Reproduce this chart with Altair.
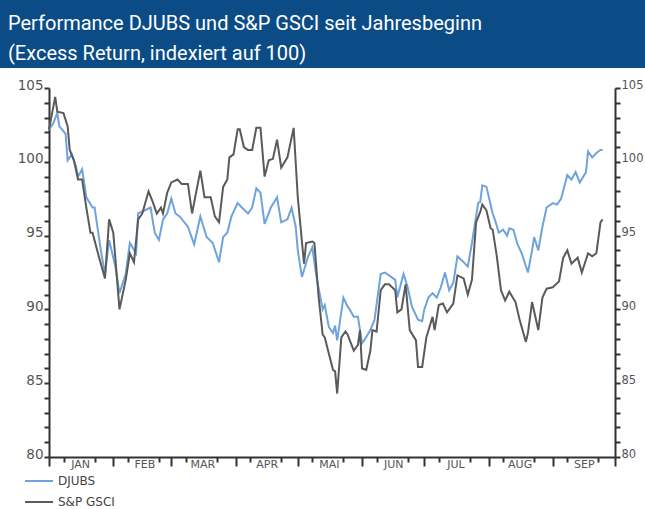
import altair as alt
import pandas as pd

TITLE_1 = "Performance DJUBS und S&P GSCI seit Jahresbeginn"
TITLE_2 = "(Excess Return, indexiert auf 100)"
SERIES = ["DJUBS", "S&P GSCI"]
COLORS = ["#6fa3dc", "#5a5a5a"]
MONTH_LABELS = ["JAN", "FEB", "MAR", "APR", "MAI", "JUN", "JUL", "AUG", "SEP"]
YEAR_START = "2010-01-01"
Y_TICKS = list(range(80, 106))

# days since 1 January
djubs_day = [0, 2, 4, 5, 8, 9, 11, 13, 14, 16,
             18, 21, 22, 25, 27, 29, 32, 34, 37, 39,
             42, 43, 46, 49, 51, 53, 55, 57, 59, 61,
             63, 67, 70, 73, 76, 79, 82, 84, 86, 88,
             91, 93, 96, 98, 100, 102, 104, 107, 110, 112,
             115, 117, 119, 120, 122, 125, 127, 129, 132, 133,
             135, 137, 138, 139, 142, 144, 145, 147, 149, 151,
             152, 155, 157, 160, 162, 165, 167, 168, 171, 173,
             175, 178, 180, 181, 183, 185, 187, 189, 191, 193,
             195, 197, 200, 202, 204, 207, 208, 209, 211, 214,
             215, 217, 219, 221, 222, 224, 226, 228, 231, 233,
             234, 236, 238, 240, 243, 245, 247, 250, 252, 254,
             256, 259, 260, 262, 264, 266, 267]
djubs_val = [102.2, 102.6, 103.3, 102.4, 101.9, 100.1, 100.5, 99.7, 99.0, 99.5,
             97.6, 96.9, 96.9, 94.0, 92.4, 94.7, 92.9, 91.1, 92.4, 94.5,
             93.8, 96.5, 96.7, 96.9, 95.2, 94.7, 96.1, 96.5, 97.5, 96.5,
             96.3, 95.6, 94.4, 96.3, 94.9, 94.5, 93.2, 94.9, 95.2, 96.3,
             97.2, 96.9, 96.5, 96.9, 98.2, 97.9, 95.8, 96.9, 97.6, 95.9,
             96.1, 96.9, 95.6, 94.0, 92.2, 93.6, 94.2, 92.2, 90.0, 90.3,
             88.8, 88.4, 88.9, 87.9, 90.8, 90.2, 90.0, 89.5, 89.5, 87.7,
             87.9, 88.6, 89.3, 92.4, 92.5, 92.2, 92.0, 90.8, 92.4, 91.5,
             90.2, 89.3, 89.2, 90.0, 90.8, 91.1, 90.8, 91.5, 92.5, 91.3,
             91.8, 93.6, 93.2, 92.9, 94.5, 97.2, 97.3, 98.4, 98.3, 96.5,
             96.1, 95.2, 95.4, 95.0, 95.5, 95.4, 94.4, 93.8, 92.5, 94.0,
             94.9, 94.0, 95.6, 96.9, 97.2, 97.1, 97.5, 99.1, 98.8, 99.3,
             98.6, 99.3, 100.7, 100.3, 100.6, 100.8, 100.8]

gsci_day = [0, 3, 4, 7, 9, 10, 12, 14, 16, 18,
            20, 21, 24, 27, 29, 31, 34, 37, 39, 41,
            43, 45, 48, 50, 52, 54, 55, 57, 59, 62,
            64, 67, 69, 73, 75, 78, 80, 82, 84, 86,
            87, 89, 91, 92, 94, 96, 98, 100, 102, 104,
            106, 108, 110, 112, 115, 118, 120, 123, 124, 127,
            128, 130, 132, 133, 135, 137, 138, 139, 141, 143,
            144, 147, 149, 150, 151, 153, 155, 156, 158, 160,
            162, 164, 167, 168, 170, 172, 174, 177, 178, 180,
            182, 185, 186, 188, 190, 192, 195, 197, 200, 202,
            204, 206, 208, 209, 211, 213, 214, 216, 218, 220,
            222, 225, 227, 230, 231, 233, 236, 238, 240, 243,
            246, 248, 250, 252, 255, 257, 260, 262, 264, 266,
            267]
gsci_val = [102.2, 104.4, 103.4, 103.3, 102.4, 100.8, 100.1, 98.8, 98.8, 96.9,
            95.2, 95.2, 93.6, 92.1, 96.1, 95.2, 90.0, 92.0, 93.8, 93.2,
            96.1, 96.5, 98.0, 97.3, 96.5, 96.9, 96.5, 97.9, 98.6, 98.8,
            98.5, 98.5, 96.5, 99.4, 97.6, 97.6, 96.3, 95.9, 98.3, 98.8,
            100.3, 100.5, 102.2, 102.2, 101.0, 100.8, 100.8, 102.3, 102.3, 99.0,
            100.1, 100.2, 101.5, 99.6, 100.3, 102.3, 97.6, 93.1, 94.5, 94.6,
            94.5, 90.9, 88.3, 88.1, 87.0, 85.9, 85.8, 84.3, 88.1, 88.5,
            88.3, 87.2, 87.6, 88.6, 86.0, 85.9, 87.2, 88.6, 88.5, 91.3,
            91.7, 91.7, 91.3, 89.8, 90.0, 91.7, 88.6, 87.9, 86.1, 86.1,
            88.1, 89.5, 88.6, 90.3, 90.4, 89.8, 90.4, 92.3, 92.1, 91.0,
            92.0, 95.9, 96.6, 97.1, 96.7, 95.5, 95.4, 93.6, 91.3, 90.6,
            91.2, 90.5, 89.3, 87.8, 88.4, 90.5, 88.6, 90.8, 91.4, 91.5,
            91.9, 93.5, 94.0, 93.1, 93.5, 92.5, 93.8, 93.6, 93.8, 95.9,
            96.1]

start = pd.Timestamp(YEAR_START)
df = pd.concat([
    pd.DataFrame({"date": start + pd.to_timedelta(djubs_day, unit="D"),
                  "value": djubs_val, "series": SERIES[0]}),
    pd.DataFrame({"date": start + pd.to_timedelta(gsci_day, unit="D"),
                  "value": gsci_val, "series": SERIES[1]}),
])
df["date"] = df["date"].dt.strftime("%Y-%m-%dT%H:%M:%S")

W, H = 566, 369
FONT = "DejaVu Sans"
AX_COL = "#333333"

x_scale = alt.Scale(domain=[alt.DateTime(year=2010, month=1, date=1),
                            alt.DateTime(year=2010, month=10, date=1)])
y_scale = alt.Scale(domain=[80, 105], nice=False, zero=False)

# tick positions: month starts (long), around labels (short), label at mid-month
x_values = []
for m in range(1, 10):
    for d in (1, 8, 16, 23):
        x_values.append(alt.DateTime(year=2010, month=m, date=d))
x_values.append(alt.DateTime(year=2010, month=10, date=1))

label_arr = "[" + ",".join(f"'{m}'" for m in MONTH_LABELS) + "]"
x_axis = alt.Axis(
    values=x_values,
    labelExpr=f"date(datum.value) == 16 ? {label_arr}[month(datum.value)] : ''",
    grid=False, title=None,
    tickColor=AX_COL, tickWidth=2,
    tickSize={"condition": {"test": "date(datum.value) == 1", "value": 9}, "value": 5},
    tickOpacity={"condition": {"test": "date(datum.value) == 16", "value": 0}, "value": 1},
    domainColor=AX_COL, domainWidth=2,
    labelFont=FONT, labelFontSize=11, labelColor="#555555",
    labelPadding=-4, labelAlign="center", labelFlush=False, labelOverlap=False,
)

def y_axis(orient, size):
    return alt.Axis(
        orient=orient, values=Y_TICKS,
        labelExpr="datum.value % 5 == 0 ? datum.label : ''",
        grid=False, title=None, tickSize=5, tickColor=AX_COL, tickWidth=2,
        domainColor=AX_COL, domainWidth=2,
        labelFont=FONT, labelFontSize=size, labelColor="#555555",
        labelPadding=1, labelOffset=-3, labelOverlap=False,
    )

X = alt.X("date:T", scale=x_scale, axis=x_axis)

lines = alt.Chart(df).mark_line(strokeWidth=2).encode(
    x=X,
    y=alt.Y("value:Q", scale=y_scale, axis=y_axis("left", 13.5)),
    color=alt.Color("series:N", scale=alt.Scale(domain=SERIES, range=COLORS),
                    legend=alt.Legend(orient="none", legendX=-25, legendY=378,
                                      title=None, symbolType="stroke",
                                      symbolSize=784, symbolStrokeWidth=2,
                                      labelFont=FONT, labelFontSize=12,
                                      labelColor="#444444", padding=0,
                                      rowPadding=-14, labelOffset=4)),
)

right = alt.Chart(df).mark_line(strokeOpacity=0).encode(
    x=X,
    y=alt.Y("value:Q", scale=y_scale, axis=y_axis("right", 11.5)),
)

one = pd.DataFrame({"k": [0]})
banner = alt.Chart(one).mark_rect(color="#0c4c86").encode(
    x=alt.value(-49), x2=alt.value(W + 30), y=alt.value(-88), y2=alt.value(-20))
TITLE_FONT = "Liberation Sans Narrow, Roboto, sans-serif"
t1 = alt.Chart(one).mark_text(align="left", baseline="middle", font=TITLE_FONT,
                              fontSize=20, color="white").encode(
    x=alt.value(-41), y=alt.value(-64), text=alt.value(TITLE_1))
t2 = alt.Chart(one).mark_text(align="left", baseline="middle", font=TITLE_FONT,
                              fontSize=20, color="white").encode(
    x=alt.value(-41), y=alt.value(-34), text=alt.value(TITLE_2))

chart = alt.layer(banner, t1, t2, lines, right).resolve_scale(
    y="shared").resolve_axis(y="independent").properties(
    width=W, height=H,
    padding={"left": 49, "top": 88, "right": 30, "bottom": 52},
    autosize=alt.AutoSizeParams(type="none"),
    background="white",
).configure_view(stroke=None)

chart.save("out.html", embed_options={"renderer": "svg", "actions": False})
